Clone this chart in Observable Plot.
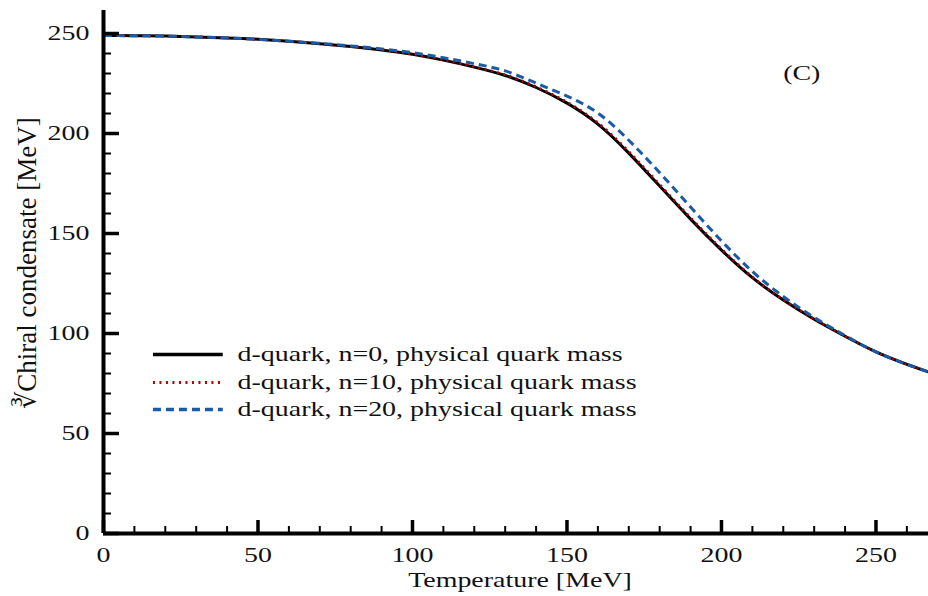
<!DOCTYPE html>
<html><head><meta charset="utf-8">
<script src="https://cdn.jsdelivr.net/npm/d3@7"></script>
<script src="https://cdn.jsdelivr.net/npm/@observablehq/plot@0.6"></script>
<style>body{margin:0;background:#fff}#chart{width:928px;height:596px}</style>
</head><body><div id="chart"></div>
<script>
// ---- data ----
const temperature = [0,10,20,30,40,50,60,70,80,90,100,110,120,130,140,150,160,170,180,190,200,210,220,230,240,250,260,267];
const condensateN0 = [249.0,248.9,248.7,248.3,247.8,247.1,246.1,244.9,243.5,241.8,239.6,236.7,233.2,229.0,223.0,215.2,204.7,190.2,173.7,157.2,141.7,127.9,116.7,107.1,98.6,90.8,84.6,80.8];
const condensateN10 = [249.0,248.9,248.7,248.3,247.8,247.1,246.1,244.9,243.5,241.9,239.7,236.9,233.4,229.3,223.4,215.7,205.4,191.0,174.5,157.9,142.3,128.3,116.9,107.2,98.6,90.8,84.6,80.8];
const condensateN20 = [249.0,248.9,248.7,248.3,247.8,247.1,246.1,245.1,243.8,242.3,240.4,237.9,234.9,231.3,225.2,218.7,210.2,196.6,180.4,163.2,146.3,131.0,118.5,108.0,99.0,90.8,84.6,80.8];
const seriesNames = ["d-quark, n=0, physical quark mass","d-quark, n=10, physical quark mass","d-quark, n=20, physical quark mass"];
const xMajorTicks = [0,50,100,150,200,250];
const xMinorTicks = [10,20,30,40,60,70,80,90,110,120,130,140,160,170,180,190,210,220,230,240,260];
const yMajorTicks = [0,50,100,150,200,250];
const yMinorTicks = [10,20,30,40,60,70,80,90,110,120,130,140,160,170,180,190,210,220,230,240];
const xTitle = "Temperature [MeV]";
const yTitle = "\u221BChiral condensate [MeV]";
const panelTag = "(C)";

// ---- styles / layout ----
const colors = ["#000000","#b30000","#1b5aa6"];
const dashes = [null,"2,4.5","8,5"];
const widths = [3,2.6,3];
const W = 928, H = 596, mL = 103, mR = 0, mT = 10, mB = 63;
const innerW = W - mL - mR, innerH = H - mT - mB;
const font = "'Liberation Serif','Times New Roman',serif";
const fs = 21;
const legendY = [89.5, 75.5, 62];
const legendX1 = 16, legendX2 = 38.6, legendTextX = 43.4;

const allSeries = [condensateN0, condensateN10, condensateN20];
const tables = allSeries.map(vals => temperature.map((t,i) => ({T:t, v:vals[i]})));
const legendRows = seriesNames.map((name,i) => ({name, i, y: legendY[i]}));

const marks = [];
tables.forEach((tbl,i) => {
  marks.push(Plot.line(tbl, {x:"T", y:"v", stroke: colors[i], strokeWidth: widths[i],
    strokeDasharray: dashes[i], curve:"natural", clip:true, strokeLinecap: i===0 ? "round" : "butt"}));
});
// legend
legendRows.forEach(r => {
  marks.push(Plot.link([r], {x1: () => legendX1, x2: () => legendX2, y1:"y", y2:"y",
    stroke: colors[r.i], strokeWidth: widths[r.i]+0.4, strokeDasharray: dashes[r.i]}));
});
marks.push(Plot.text(legendRows, {x: () => legendTextX, y:"y", text:"name", textAnchor:"start",
  fontSize: fs, fontFamily: font, fill:"#111"}));
// panel tag
marks.push(Plot.text([panelTag], {x: () => 226, y: () => 230, text: d => d, fontSize: fs, fontFamily: font, fill:"#111"}));
// axes lines
marks.push(Plot.ruleX([0], {strokeWidth:4, stroke:"#000"}));
marks.push(Plot.ruleY([0], {strokeWidth:4, stroke:"#000"}));
// inward ticks
marks.push(Plot.tickY(yMajorTicks, {y: d=>d, insetRight: innerW - 16, strokeWidth:3.5, stroke:"#000"}));
marks.push(Plot.tickY(yMinorTicks, {y: d=>d, insetRight: innerW - 8, strokeWidth:2, stroke:"#000"}));
marks.push(Plot.tickX(xMajorTicks, {x: d=>d, insetTop: innerH - 13, strokeWidth:3.5, stroke:"#000"}));
marks.push(Plot.tickX(xMinorTicks, {x: d=>d, insetTop: innerH - 7, strokeWidth:2, stroke:"#000"}));
// tick labels
marks.push(Plot.axisX(xMajorTicks, {tickSize:0, tickPadding:14, fontSize: fs, fontFamily: font, label:null, fill:"#111"}));
marks.push(Plot.axisY(yMajorTicks, {tickSize:0, tickPadding:14, fontSize: fs, fontFamily: font, label:null, fill:"#111"}));
// axis titles
marks.push(Plot.text([xTitle], {frameAnchor:"bottom", dy:47, dx:4, text: d=>d, textAnchor:"middle", lineAnchor:"middle",
  fontSize: fs, fontFamily: font, fill:"#111"}));
marks.push(Plot.text([yTitle], {frameAnchor:"left", dx:-76, dy:-9, rotate:-90, text: d=>d, textAnchor:"middle", lineAnchor:"middle",
  fontSize: 27, fontFamily: font, fill:"#111", className:"ylab"}));

const chart = Plot.plot({
  width: W, height: H,
  marginLeft: mL, marginRight: mR, marginTop: mT, marginBottom: mB,
  x: {domain:[0,267]},
  y: {domain:[0,261.5]},
  style: {background:"#fff", fontFamily: font, overflow:"visible"},
  marks
});
document.getElementById("chart").appendChild(chart);
// the reference glyphs are horizontally stretched: widen horizontal texts
chart.querySelectorAll("text").forEach(t => {
  if (t.closest(".ylab")) return;
  const len = t.getComputedTextLength();
  if (len > 0) {
    t.setAttribute("textLength", (len * 1.33).toFixed(1));
    t.setAttribute("lengthAdjust", "spacingAndGlyphs");
  }
});
</script></body></html>
